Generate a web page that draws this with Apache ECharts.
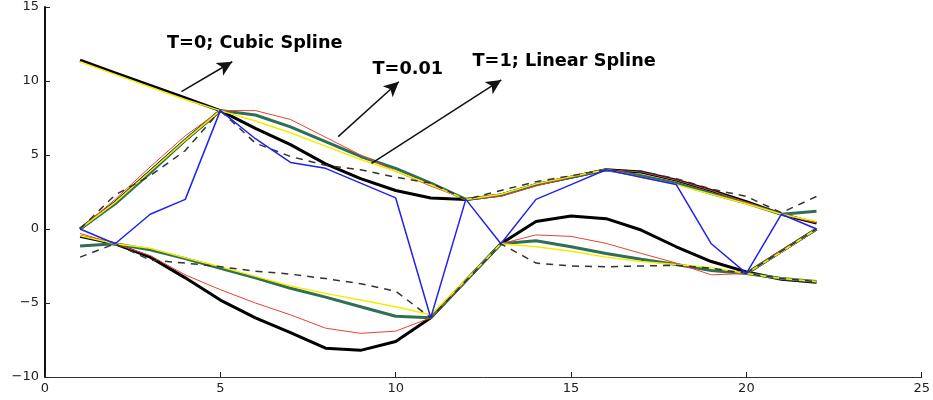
<!DOCTYPE html>
<html>
<head>
<meta charset="utf-8">
<script src="https://cdn.jsdelivr.net/npm/echarts@6/dist/echarts.min.js"></script>
<style>
  html, body { margin: 0; padding: 0; background: #fff; }
  #Grf { width: 933px; height: 400px; }
</style>
</head>
<body>
<div id="Grf"></div>
<script>
// x positions of the samples
const xs = [1, 2, 3, 4, 5, 6, 7, 8, 9, 10, 11, 12, 13, 14, 15, 16, 17, 18, 19, 20, 21, 22];

// raw data (blue polyline)
const blueRaw = [0, -1, 1, 2, 8, 6.1, 4.5, 4.1, 3.1, 2.1, -6, 2, -1, 2, 3, 4, 3.5, 3, -1, -3, 1, 0];

// upper branch
const blackTop  = [11.4, 10.55, 9.7, 8.85, 8, 6.8, 5.7, 4.4, 3.4, 2.6, 2.1, 2, 2.3, 3.0, 3.5, 4, 3.85, 3.3, 2.6, 1.85, 1, 0.4];
const redTop    = [null, null, null, null, 8, 8.0, 7.4, 6.2, 5.0, 3.9, 2.9, 2, 2.2, 2.9, 3.5, 4, 3.85, 3.3, 2.6, 1.8, 1, 0.4];
const greenTop  = [null, null, null, null, 8, 7.7, 6.9, 5.9, 4.9, 4.1, 3.1, 2, 2.3, 3.0, 3.5, 4, 3.6, 3.1, 2.4, 1.75, 1, 1.2];
const yellowTop = [11.3, 10.45, 9.6, 8.75, 8, 7.3, 6.5, 5.6, 4.7, 3.9, 3.0, 2, 2.35, 3.05, 3.55, 4, 3.5, 3.0, 2.35, 1.7, 1, 0.5];
const dashTop   = [null, null, null, null, 8, 5.8, 4.9, 4.3, 4.0, 3.5, 3.1, 2, 2.6, 3.2, 3.6, 4, 3.9, 3.4, 2.7, 2.2, 1.1, 2.2];

// middle branch
const blackMid  = [0, 1.8, 3.9, 6.0, 8, null, null, null, null, null, null, null, null, null, null, null, null, null, null, -3, -1.5, 0];
const redMid    = [0, 2.0, 4.2, 6.3, 8, null, null, null, null, null, null, null, null, null, null, null, null, null, null, -3, -1.45, 0];
const greenMid  = [0, 1.7, 3.8, 6.0, 8, null, null, null, null, null, null, null, null, null, null, null, null, null, null, -3, -1.5, 0];
const yellowMid = [0, 1.8, 3.9, 6.0, 8, null, null, null, null, null, null, null, null, null, null, null, null, null, null, -3, -1.55, 0];
const dashMid   = [0, 2.3, 3.6, 5.3, 8, null, null, null, null, null, null, null, null, null, null, null, null, null, null, -3, -1.5, 0];

// lower branch
const blackBot  = [-0.5, -1, -1.9, -3.3, -4.8, -6.0, -7.0, -8.05, -8.2, -7.6, -6, -3.5, -1, 0.5, 0.88, 0.7, -0.07, -1.2, -2.2, -2.9, -3.4, -3.6];
const redBot    = [-0.3, -1, -1.8, -3.1, -4.1, -5.0, -5.8, -6.7, -7.05, -6.9, -6, -3.5, -1, -0.4, -0.5, -0.97, -1.65, -2.3, -3.1, -3, -3.35, -3.55];
const greenBot  = [-1.15, -1, -1.4, -2.0, -2.65, -3.3, -4.0, -4.6, -5.25, -5.9, -6, -3.5, -1, -0.8, -1.2, -1.65, -2.05, -2.4, -2.8, -3, -3.35, -3.55];
const yellowBot = [-0.45, -1, -1.3, -1.95, -2.55, -3.2, -3.85, -4.35, -4.8, -5.25, -5.8, -3.45, -1, -1.2, -1.5, -1.9, -2.2, -2.4, -2.6, -3, -3.35, -3.55];
const dashBot   = [-1.9, -1, -2.1, -2.3, -2.55, -2.85, -3.05, -3.35, -3.7, -4.2, -6, -3.5, -1, -2.3, -2.5, -2.55, -2.5, -2.45, -2.65, -3, -3.35, -3.55];

// annotations (data coordinates)
const arrows = [
  [[3.89, 9.28], [5.34, 11.3]],
  [[8.36, 6.24], [10.09, 9.95]],
  [[9.31, 4.44], [13.01, 10.07]]
];
const notes = [
  { text: 'T=0; Cubic Spline', at: [3.48, 12.55] },
  { text: 'T=0.01', at: [9.34, 10.8] },
  { text: 'T=1; Linear Spline', at: [12.19, 11.35] }
];

const styles = {
  black:  { color: '#000000', width: 3, type: 'solid' },
  green:  { color: '#2f6f55', width: 3, type: 'solid' },
  red:    { color: '#e8432e', width: 1, type: 'solid' },
  yellow: { color: '#f2ee00', width: 1.5, type: 'solid' },
  dash:   { color: '#333333', width: 1.5, type: [7, 6] },
  blue:   { color: '#2222ee', width: 1.5, type: 'solid' }
};

const mkSeries = (name, arr, st) => ({
  name: name,
  type: 'line',
  data: xs.map((x, i) => [x, arr[i] == null ? null : arr[i]]),
  showSymbol: false,
  symbol: 'none',
  connectNulls: false,
  lineStyle: { color: st.color, width: st.width, type: st.type },
  itemStyle: { color: st.color },
  silent: true,
  animation: false
});

const lines = [
  ['blackTop', blackTop, 'black'], ['blackMid', blackMid, 'black'], ['blackBot', blackBot, 'black'],
  ['greenTop', greenTop, 'green'], ['greenMid', greenMid, 'green'], ['greenBot', greenBot, 'green'],
  ['redTop', redTop, 'red'], ['redMid', redMid, 'red'], ['redBot', redBot, 'red'],
  ['yellowTop', yellowTop, 'yellow'], ['yellowMid', yellowMid, 'yellow'], ['yellowBot', yellowBot, 'yellow'],
  ['dashTop', dashTop, 'dash'], ['dashMid', dashMid, 'dash'], ['dashBot', dashBot, 'dash'],
  ['blue', blueRaw, 'blue']
];

const series = lines.map(l => mkSeries(l[0], l[1], styles[l[2]]));

// arrows drawn as a markLine on an empty series
series.push({
  name: 'arrows',
  type: 'line',
  data: [],
  silent: true,
  animation: false,
  markLine: {
    silent: true,
    animation: false,
    symbol: ['none', 'arrow'],
    symbolSize: [11, 15],
    label: { show: false },
    lineStyle: { color: '#111', width: 1.5, type: 'solid' },
    emphasis: { disabled: true },
    data: arrows.map(a => [{ coord: a[0] }, { coord: a[1] }])
  }
});

const axisText = { color: '#222', fontSize: 13, fontFamily: 'DejaVu Sans' };

const option = {
  animation: false,
  grid: { left: 45, right: 11, top: 7, bottom: 23 },
  xAxis: {
    type: 'value',
    min: 0, max: 25, interval: 5,
    axisLine: { show: true, onZero: false, lineStyle: { color: '#333', width: 1 } },
    axisTick: { show: true, inside: true, length: 5, lineStyle: { color: '#222' } },
    axisLabel: Object.assign({ margin: 5 }, axisText),
    splitLine: { show: false }
  },
  yAxis: {
    type: 'value',
    min: -10, max: 15, interval: 5,
    axisLine: { show: true, onZero: false, lineStyle: { color: '#111', width: 2 } },
    axisTick: { show: true, inside: true, length: 5, lineStyle: { color: '#222' } },
    axisLabel: Object.assign({ margin: 6, formatter: v => String(v).replace('-', '\u2212') }, axisText),
    splitLine: { show: false }
  },
  series: series
};

const chart = echarts.init(document.querySelector('#Grf'));
chart.setOption(option);

chart.setOption({
  graphic: notes.map(n => {
    const p = chart.convertToPixel({ gridIndex: 0 }, n.at);
    return {
      type: 'text',
      x: p[0],
      y: p[1],
      silent: true,
      style: {
        text: n.text,
        fill: '#000',
        font: 'bold 17.7px "DejaVu Sans"',
        textVerticalAlign: 'middle'
      }
    };
  })
});
</script>
</body>
</html>
